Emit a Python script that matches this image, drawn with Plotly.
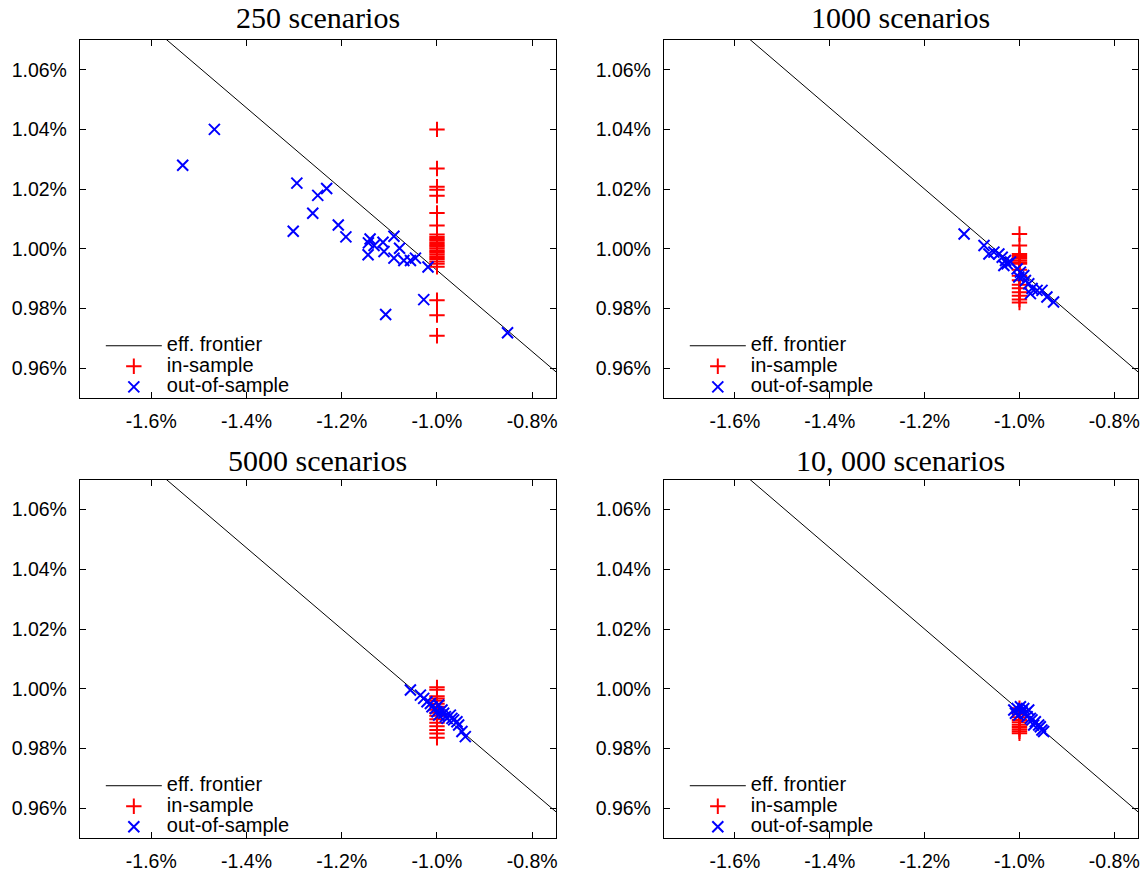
import plotly.graph_objects as go

# ---------------- data ----------------
panel_titles = ["250 scenarios", "1000 scenarios", "5000 scenarios", "10, 000 scenarios"]

frontier_x = [-1.75, -0.75]
frontier_y = [1.0948, 0.9588]

in_sample_x = -1.0

in_y_250 = [1.0400, 1.0269, 1.0208, 1.0198, 1.0178, 1.0120, 1.0078, 1.0048, 1.0040,
            1.0033, 1.0027, 1.0020, 1.0013, 1.0007, 1.0000, 0.9993, 0.9987, 0.9980,
            0.9973, 0.9966, 0.9958, 0.9950, 0.9940, 0.9828, 0.9778, 0.9709]
out_x_250 = [-1.4675, -1.5340, -1.2943, -1.2317, -1.2504, -1.2609, -1.3019, -1.2073,
             -1.1913, -1.1405, -1.1440, -1.1322, -1.1447, -1.1134, -1.1113, -1.0904,
             -1.0786, -1.0904, -1.0696, -1.0557, -1.0452, -1.0188, -1.0278, -1.1078,
             -0.8518]
out_y_250 = [1.0400, 1.0280, 1.0220, 1.0202, 1.0179, 1.0119, 1.0059, 1.0080,
             1.0040, 1.0033, 1.0020, 1.0011, 0.9980, 1.0022, 0.9991, 1.0042,
             1.0002, 0.9969, 0.9961, 0.9961, 0.9969, 0.9939, 0.9830, 0.9780,
             0.9719]

in_y_1000 = [1.0050, 1.0011, 0.9983, 0.9976, 0.9969, 0.9962, 0.9955, 0.9950, 0.9930,
             0.9910, 0.9895, 0.9880, 0.9868, 0.9855, 0.9843, 0.9830, 0.9820]
out_x_1000 = [-1.1168, -1.0748, -1.0644, -1.0539, -1.0434, -1.0364, -1.0294, -1.0259,
              -1.0189, -1.0329, -1.0049, -0.9979, -0.9909, -1.0014, -0.9874, -0.9804,
              -0.9734, -0.9769, -0.9629, -0.9524, -0.9421, -0.9281]
out_y_1000 = [1.0050, 1.0011, 0.9983, 0.9989, 0.9983, 0.9972, 0.9961, 0.9950,
              0.9956, 0.9944, 0.9933, 0.9922, 0.9911, 0.9906, 0.9894, 0.9883,
              0.9867, 0.9850, 0.9861, 0.9861, 0.9839, 0.9822]

in_y_5000 = [1.0005, 0.9997, 0.9975, 0.9968, 0.9960, 0.9950, 0.9940, 0.9930, 0.9920,
             0.9910, 0.9898, 0.9886, 0.9875, 0.9862, 0.9850, 0.9836]
out_x_5000 = [-1.0558, -1.0348, -1.0279, -1.0210, -1.0138, -1.0105, -1.0034, -0.9964,
              -1.0000, -0.9964, -0.9895, -0.9860, -0.9824, -0.9790, -0.9719, -0.9686,
              -0.9650, -0.9581, -0.9545, -0.9476, -0.9405]
out_y_5000 = [0.9996, 0.9979, 0.9968, 0.9957, 0.9951, 0.9940, 0.9934, 0.9946,
              0.9923, 0.9912, 0.9929, 0.9918, 0.9907, 0.9901, 0.9912, 0.9901,
              0.9896, 0.9890, 0.9879, 0.9857, 0.9840]

in_y_10000 = [0.9935, 0.9925, 0.9915, 0.9905, 0.9896, 0.9888, 0.9880, 0.9872, 0.9865,
              0.9858, 0.9851]
out_x_10000 = [-1.0120, -1.0050, -0.9980, -0.9910, -1.0084, -1.0015, -0.9945, -0.9874,
               -0.9805, -0.9840, -0.9770, -0.9736, -0.9665, -0.9700, -0.9595, -0.9560,
               -0.9526, -0.9490]
out_y_10000 = [0.9929, 0.9934, 0.9940, 0.9934, 0.9918, 0.9912, 0.9923, 0.9918,
               0.9929, 0.9907, 0.9901, 0.9896, 0.9890, 0.9879, 0.9879, 0.9873,
               0.9862, 0.9857]

x_tick_vals = [-1.6, -1.4, -1.2, -1.0, -0.8]
x_tick_text = ["-1.6%", "-1.4%", "-1.2%", "-1.0%", "-0.8%"]
y_tick_vals = [0.96, 0.98, 1.00, 1.02, 1.04, 1.06]
y_tick_text = ["0.96%", "0.98%", "1.00%", "1.02%", "1.04%", "1.06%"]

# ---------------- layout geometry ----------------
W, H = 1147, 872
x_domains = [(80, 557), (665, 1140)]
y_domains = [(40, 400), (482, 842)]
panel_pos = [(0, 0), (1, 0), (0, 1), (1, 1)]

panels = [
    (in_y_250, out_x_250, out_y_250),
    (in_y_1000, out_x_1000, out_y_1000),
    (in_y_5000, out_x_5000, out_y_5000),
    (in_y_10000, out_x_10000, out_y_10000),
]

def lbl(s):
    return '<span style="font-size:20px">' + s + '</span>'

fig = go.Figure()
layout = dict(
    width=W, height=H,
    margin=dict(l=0, r=0, t=0, b=0),
    paper_bgcolor="white", plot_bgcolor="white",
    font=dict(family="Liberation Sans, Arial, sans-serif", color="black"),
    annotations=[],
)

for i, (in_y, out_x, out_y) in enumerate(panels):
    suf = "" if i == 0 else str(i + 1)
    lg = "legend" if i == 0 else "legend" + str(i + 1)
    cx, cy = panel_pos[i]
    x0, x1 = x_domains[cx]
    y0, y1 = y_domains[cy]

    fig.add_trace(go.Scatter(
        x=frontier_x, y=frontier_y, mode="lines",
        line=dict(color="black", width=1),
        name=lbl("eff. frontier"), xaxis="x" + suf, yaxis="y" + suf, legend=lg,
        hoverinfo="skip"))
    fig.add_trace(go.Scatter(
        x=[in_sample_x] * len(in_y), y=in_y, mode="markers",
        marker=dict(symbol="cross-thin", size=11, color="red",
                    line=dict(color="red", width=2)),
        name=lbl("in-sample"), xaxis="x" + suf, yaxis="y" + suf, legend=lg))
    fig.add_trace(go.Scatter(
        x=out_x, y=out_y, mode="markers",
        marker=dict(symbol="x-thin", size=11, color="blue",
                    line=dict(color="blue", width=2)),
        name=lbl("out-of-sample"), xaxis="x" + suf, yaxis="y" + suf, legend=lg))

    common = dict(showline=True, linecolor="black", linewidth=1, mirror="allticks",
                  ticks="inside", ticklen=6, tickcolor="black", tickwidth=1,
                  showgrid=False, zeroline=False,
                  tickfont=dict(family="Liberation Sans, Arial, sans-serif",
                                size=19.5, color="black"))
    layout["xaxis" + suf] = dict(
        domain=[x0 / W, x1 / W], range=[-1.75, -0.75], anchor="y" + suf,
        tickmode="array", tickvals=x_tick_vals, ticktext=x_tick_text,
        ticklabelstandoff=5, **common)
    layout["yaxis" + suf] = dict(
        domain=[1 - y1 / H, 1 - y0 / H], range=[0.95, 1.07], anchor="x" + suf,
        tickmode="array", tickvals=y_tick_vals, ticktext=y_tick_text,
        ticklabelstandoff=8, **common)
    layout[lg] = dict(
        x=(x0 + 21) / W, y=1 - (y1 - 68) / H, xanchor="left", yanchor="top",
        bgcolor="rgba(0,0,0,0)", borderwidth=0, itemwidth=56,
        font=dict(size=13.5, family="Liberation Sans, Arial, sans-serif", color="black"),
        tracegroupgap=0)
    layout["annotations"].append(dict(
        text=panel_titles[i], xref="paper", yref="paper",
        x=(x0 + x1) / 2 / W, y=1 - (y0 - (22 if cy == 0 else 19)) / H,
        xanchor="center", yanchor="middle", showarrow=False,
        font=dict(family="Liberation Serif, Times New Roman, serif", size=30, color="black")))

fig.update_layout(**layout)
fig.write_html("out.html")
